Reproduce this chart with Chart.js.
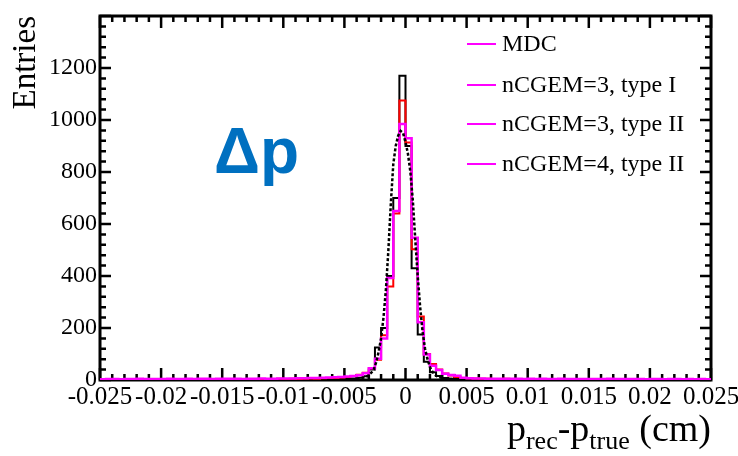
<!DOCTYPE html>
<html>
<head>
<meta charset="utf-8">
<script src="https://cdn.jsdelivr.net/npm/chart.js@4.4.0/dist/chart.umd.min.js"></script>
<style>
  html, body { margin: 0; padding: 0; background: #fff; }
</style>
</head>
<body>
<canvas id="deltaP" width="738" height="456"></canvas>
<script>
// ---- data ----
const seriesLabels = ["MDC", "nCGEM=3, type I", "nCGEM=3, type II", "nCGEM=4, type II"];

// 100 bins of 0.0005 from -0.025 to 0.025
const binLow = -0.025;
const binWidth = 0.0005;

const mdcCounts = [
    0, 1, 0, 0, 1, 0, 0, 0, 1, 0,
    0, 0, 1, 0, 0, 1, 0, 0, 0, 1,
    0, 1, 0, 0, 1, 0, 1, 0, 1, 1,
    1, 0, 1, 2, 1, 2, 2, 3, 3, 4,
    5, 6, 9, 14, 40, 125, 200, 400, 700, 1170,
    900, 430, 175, 70, 30, 15, 8, 5, 4, 3,
    2, 2, 1, 2, 1, 1, 0, 1, 1, 0,
    1, 0, 0, 1, 0, 1, 0, 0, 1, 0,
    0, 1, 0, 0, 0, 1, 0, 0, 1, 0,
    0, 0, 1, 0, 0, 1, 0, 0, 0, 1
];

const cgem3TypeICounts = [
    2, 3, 2, 3, 2, 4, 3, 2, 3, 3,
    3, 2, 4, 3, 3, 2, 3, 4, 3, 3,
    3, 4, 3, 3, 4, 3, 4, 4, 3, 5,
    4, 5, 4, 5, 6, 5, 7, 8, 8, 10,
    12, 15, 20, 28, 45, 78, 172, 360, 640, 1075,
    913, 503, 244, 100, 62, 40, 25, 17, 12, 8,
    7, 6, 5, 5, 4, 4, 5, 4, 3, 4,
    3, 4, 3, 3, 4, 3, 3, 2, 3, 3,
    3, 2, 3, 3, 2, 3, 3, 2, 3, 2,
    3, 2, 2, 3, 2, 3, 2, 2, 3, 2
];

const cgem4TypeIICounts = [
    3, 4, 4, 3, 4, 4, 5, 4, 4, 4,
    4, 5, 4, 4, 5, 4, 5, 5, 4, 5,
    5, 5, 5, 4, 5, 5, 6, 5, 5, 6,
    6, 6, 7, 7, 8, 8, 9, 10, 11, 12,
    13, 15, 18, 26, 45, 82, 160, 392, 650, 985,
    930, 547, 222, 98, 55, 38, 24, 19, 16, 9,
    7, 6, 6, 5, 5, 5, 5, 5, 5, 4,
    5, 4, 5, 4, 4, 5, 4, 4, 4, 4,
    4, 4, 4, 5, 4, 4, 4, 4, 4, 3,
    4, 4, 3, 4, 4, 3, 4, 3, 4, 3
];

// finer-binned curve, drawn dashed
const fineX = [
    -0.004, -0.0038, -0.0036, -0.0034, -0.0032, -0.003, -0.0028, -0.0026, -0.0024, -0.0022,
    -0.002, -0.0018, -0.0016, -0.0014, -0.0012, -0.001, -0.0008, -0.0006, -0.0004, -0.0002,
    0, 0.0002, 0.0004, 0.0006, 0.0008, 0.001, 0.0012, 0.0014, 0.0016, 0.0018,
    0.002, 0.0022, 0.0024, 0.0026, 0.0028, 0.003, 0.0032, 0.0034, 0.0036, 0.0038, 0.004
];
const cgem3TypeIIFine = [
    5, 6, 8, 10, 13, 18, 28, 40, 68, 108,
    160, 240, 350, 500, 680, 830, 900, 940, 958, 950,
    915, 870, 800, 690, 540, 400, 280, 185, 120, 80,
    50, 32, 20, 14, 10, 7, 6, 5, 4, 4, 3
];

const xTicks = [-0.025, -0.02, -0.015, -0.01, -0.005, 0, 0.005, 0.01, 0.015, 0.02, 0.025];
const xTickLabels = ["-0.025", "-0.02", "-0.015", "-0.01", "-0.005", "0", "0.005", "0.01", "0.015", "0.02", "0.025"];
const yTicks = [0, 200, 400, 600, 800, 1000, 1200];

// ---- helpers ----
function histPoints(counts) {
    // left edge of every bin, plus the closing right edge
    const pts = counts.map((c, i) => ({ x: binLow + i * binWidth, y: c }));
    pts.push({ x: binLow + counts.length * binWidth, y: counts[counts.length - 1] });
    return pts;
}

const serif = "'Liberation Serif', 'DejaVu Serif', serif";
const legendColor = "#ff00ff";

// frame + ROOT style inner ticks
const frameTicks = {
    id: "frameTicks",
    beforeDatasetsDraw(chart) {
        const { ctx, chartArea: a, scales: { x, y } } = chart;
        ctx.save();
        ctx.strokeStyle = "#000";
        ctx.lineWidth = 2.5;
        ctx.beginPath();
        for (let k = -25; k <= 25; k++) {
            const px = x.getPixelForValue(k / 1000);
            const len = k % 5 === 0 ? 12 : 6;
            ctx.moveTo(px, a.bottom); ctx.lineTo(px, a.bottom - len);
            ctx.moveTo(px, a.top); ctx.lineTo(px, a.top + len);
        }
        for (let k = 0; k <= 35; k++) {
            const py = y.getPixelForValue(k * 40);
            const len = k % 5 === 0 ? 11 : 6;
            ctx.moveTo(a.left, py); ctx.lineTo(a.left + len, py);
            ctx.moveTo(a.right, py); ctx.lineTo(a.right - len, py);
        }
        ctx.stroke();
        ctx.lineWidth = 3;
        ctx.strokeRect(a.left, a.top, a.right - a.left, a.bottom - a.top);
        ctx.restore();
    }
};

// titles, legend, label
const annotations = {
    id: "annotations",
    afterDraw(chart) {
        const { ctx, chartArea: a } = chart;
        ctx.save();
        ctx.fillStyle = "#000";

        // y title
        ctx.save();
        ctx.translate(35, a.top);
        ctx.rotate(-Math.PI / 2);
        ctx.font = "33px " + serif;
        ctx.textAlign = "right";
        ctx.textBaseline = "alphabetic";
        ctx.fillText("Entries", 0, 0);
        ctx.restore();

        // x title: p_rec - p_true (cm), right aligned
        const parts = [
            { t: "p", size: 38, dy: 0 },
            { t: "rec", size: 26, dy: 8 },
            { t: "-p", size: 38, dy: 0 },
            { t: "true", size: 26, dy: 8 },
            { t: " (cm)", size: 38, dy: 0 }
        ];
        let total = 0;
        parts.forEach(p => { ctx.font = p.size + "px " + serif; p.w = ctx.measureText(p.t).width; total += p.w; });
        let cx = a.right - total;
        const base = 441;
        ctx.textAlign = "left";
        ctx.textBaseline = "alphabetic";
        parts.forEach(p => {
            ctx.font = p.size + "px " + serif;
            ctx.fillText(p.t, cx, base + p.dy);
            cx += p.w;
        });

        // legend (all entries drawn with the same magenta line, as in the original)
        const rows = [44, 85, 124, 164];
        ctx.font = "24px " + serif;
        ctx.textBaseline = "middle";
        seriesLabels.forEach((lab, i) => {
            ctx.strokeStyle = legendColor;
            ctx.lineWidth = 2;
            ctx.beginPath();
            ctx.moveTo(467, rows[i]);
            ctx.lineTo(496, rows[i]);
            ctx.stroke();
            ctx.fillStyle = "#000";
            ctx.fillText(lab, 502, rows[i] + 1);
        });

        // big label
        ctx.fillStyle = "#0070c0";
        ctx.font = "bold 64px 'Liberation Sans', Arial, sans-serif";
        ctx.textBaseline = "alphabetic";
        ctx.fillText("\u0394p", 214, 173);
        ctx.restore();
    }
};

const ctx = document.getElementById("deltaP").getContext("2d");
new Chart(ctx, {
    type: "line",
    data: {
        datasets: [
            {
                label: seriesLabels[2],
                data: fineX.map((v, i) => ({ x: v, y: cgem3TypeIIFine[i] })),
                borderColor: "#000000",
                borderWidth: 2.5,
                borderDash: [3, 2],
                order: 1
            },
            {
                label: seriesLabels[3],
                data: histPoints(cgem4TypeIICounts),
                borderColor: "#ff00ff",
                borderWidth: 2.5,
                stepped: "before",
                order: 2
            },
            {
                label: seriesLabels[1],
                data: histPoints(cgem3TypeICounts),
                borderColor: "#ff0000",
                borderWidth: 2,
                stepped: "before",
                order: 3
            },
            {
                label: seriesLabels[0],
                data: histPoints(mdcCounts),
                borderColor: "#000000",
                borderWidth: 2,
                stepped: "before",
                order: 4
            }
        ]
    },
    options: {
        responsive: false,
        animation: false,
        layout: { padding: { left: 0, right: 27, top: 16, bottom: 0 } },
        elements: { point: { radius: 0 }, line: { tension: 0, fill: false } },
        plugins: {
            legend: { display: false },
            tooltip: { enabled: false }
        },
        scales: {
            x: {
                type: "linear",
                min: -0.025,
                max: 0.025,
                grid: { display: false, drawTicks: false },
                border: { display: false },
                afterBuildTicks: s => { s.ticks = xTicks.map(v => ({ value: v })); },
                afterFit: s => { s.height = 76; s.paddingLeft = 0; s.paddingRight = 0; },
                ticks: {
                    autoSkip: false,
                    maxRotation: 0,
                    padding: 2,
                    color: "#000",
                    font: { family: serif, size: 25 },
                    callback: (v, i) => xTickLabels[i]
                }
            },
            y: {
                min: 0,
                max: 1400,
                grid: { display: false, drawTicks: false },
                border: { display: false },
                afterBuildTicks: s => { s.ticks = yTicks.map(v => ({ value: v })); },
                afterFit: s => { s.width = 100; s.paddingTop = 0; s.paddingBottom = 0; },
                ticks: {
                    padding: 3,
                    color: "#000",
                    font: { family: serif, size: 24 },
                    callback: v => String(v)
                }
            }
        }
    },
    plugins: [frameTicks, annotations]
});
</script>
</body>
</html>
